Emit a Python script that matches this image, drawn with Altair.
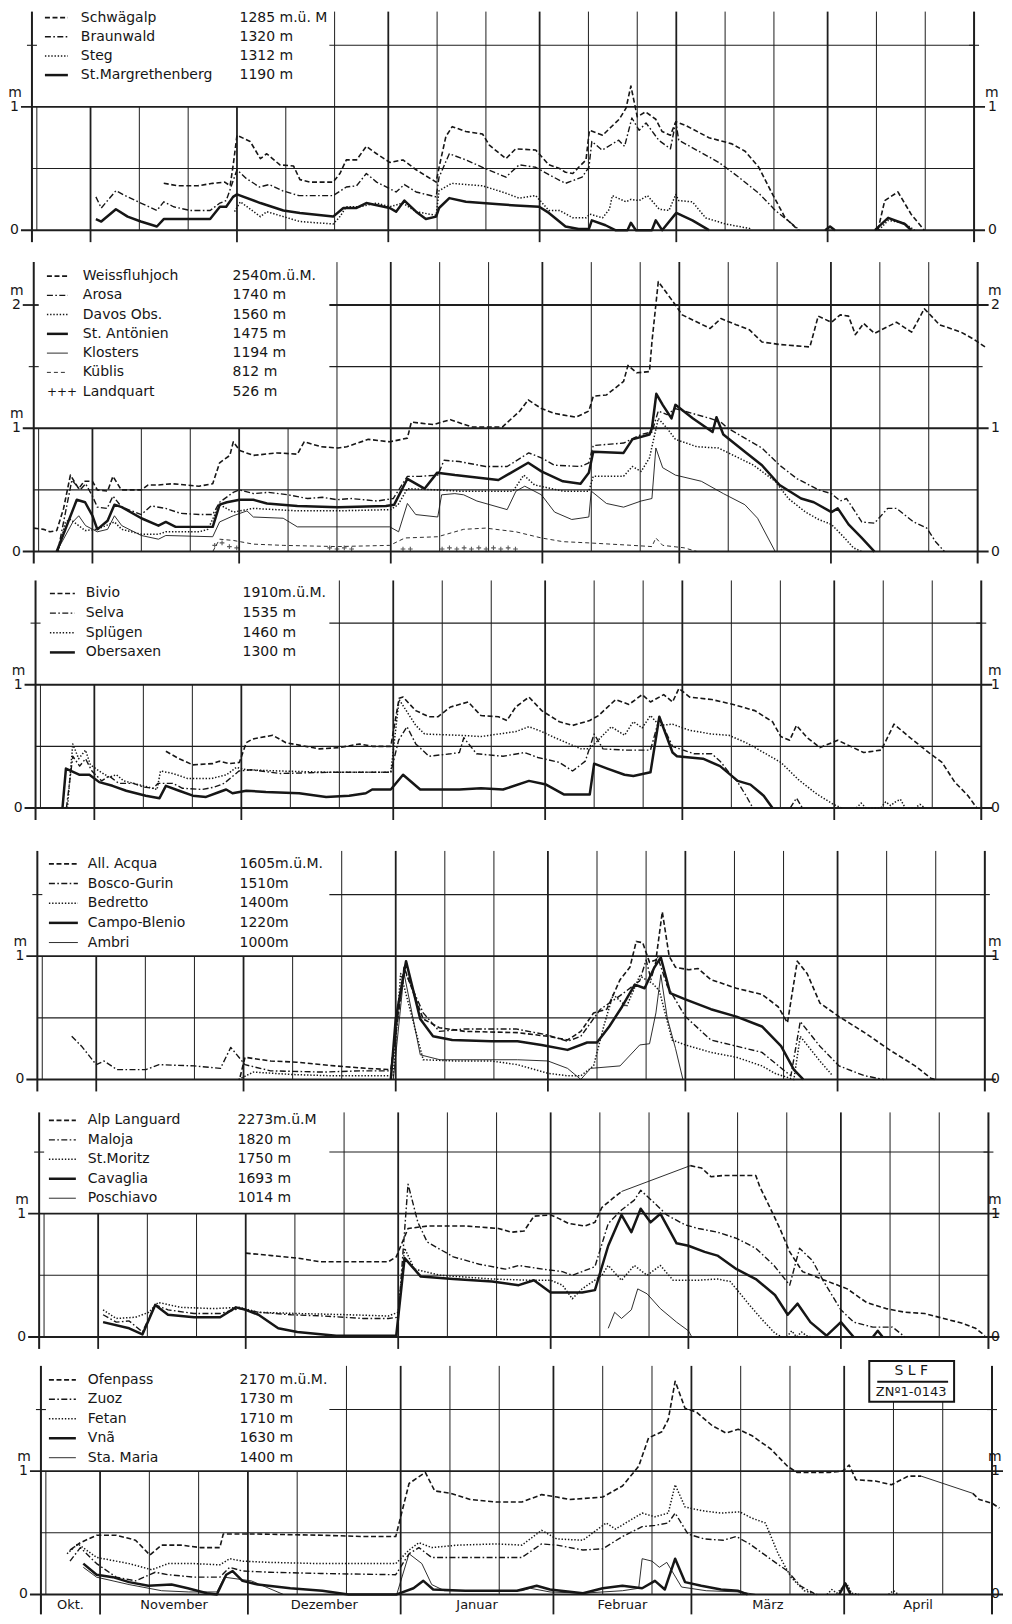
import altair as alt
import pandas as pd

# ---------------------------------------------------------------------------
# Day index: 0 = 20 Oct, 12 = 1 Nov, 42 = 1 Dec, 73 = 1 Jan, 104 = 1 Feb,
#            132 = 1 Mar, 163 = 1 Apr, 193 = 1 May.   Values: snow depth in m.
# ---------------------------------------------------------------------------

# ---- Panel 1 ----
SCHWAEGALP_D = [27, 30, 34, 37, 39.5, 40.6, 41.3, 42, 44.7, 46.8, 48.1, 50.8, 53.6, 54.9, 57, 61.7, 63.1, 64.4, 66.5, 68.5, 70.6, 73.3, 76, 78.7, 82.8, 83.4, 84.8, 86.1, 88.9, 92.3, 93.7, 97.1, 99.1, 103.2, 105.9, 108.1, 109.3, 110.8, 112, 113.5, 114.2, 116.9, 120.3, 121.7, 122.7, 124, 125.7, 127.8, 129.1, 130.8, 131.9, 133.9, 138.7, 143.4, 146.1, 148.9, 151.6, 154.3, 157]
SCHWAEGALP_V = [0.38, 0.36, 0.36, 0.38, 0.39, 0.36, 0.55, 0.77, 0.72, 0.58, 0.62, 0.53, 0.52, 0.41, 0.39, 0.39, 0.46, 0.57, 0.57, 0.68, 0.62, 0.55, 0.57, 0.49, 0.39, 0.51, 0.76, 0.84, 0.80, 0.78, 0.69, 0.58, 0.66, 0.65, 0.53, 0.50, 0.47, 0.46, 0.51, 0.57, 0.81, 0.77, 0.90, 0.99, 1.17, 0.92, 0.96, 0.90, 0.80, 0.77, 0.88, 0.85, 0.75, 0.70, 0.64, 0.51, 0.30, 0.10, 0.0]
SCHWAEGALP_D2 = [173.3, 174.7, 177.4, 180.1, 182.8]
SCHWAEGALP_V2 = [0, 0.24, 0.31, 0.13, 0]
BRAUNWALD_D = [13.1, 14.2, 17.2, 19.6, 22.3, 25.6, 27, 29, 32.4, 36.5, 38.5, 39.8, 42, 43.9, 46.6, 48.6, 51.3, 54.7, 57.5, 61.7, 64.4, 66.5, 68.5, 70.6, 74.6, 76.3, 78.7, 82.8, 83.4, 85.5, 88.9, 92.3, 97.1, 99.8, 103.2, 105.9, 109.3, 112.7, 114.1, 114.7, 116.8, 120.2, 121.4, 122.9, 124.4, 125.8, 128.4, 130.8, 131.9, 132.5, 136.6, 140.7, 144.8, 148.9, 152.3, 157.3]
BRAUNWALD_V = [0.27, 0.18, 0.32, 0.27, 0.22, 0.16, 0.23, 0.19, 0.16, 0.16, 0.22, 0.24, 0.49, 0.42, 0.35, 0.37, 0.32, 0.28, 0.28, 0.28, 0.35, 0.36, 0.46, 0.39, 0.31, 0.37, 0.31, 0.27, 0.43, 0.62, 0.57, 0.51, 0.43, 0.53, 0.51, 0.45, 0.38, 0.43, 0.51, 0.72, 0.65, 0.73, 0.68, 0.91, 0.81, 0.87, 0.73, 0.66, 0.88, 0.73, 0.64, 0.55, 0.43, 0.30, 0.16, 0.0]
STEG_D = [41.5, 42.7, 46.8, 48.1, 51.5, 54.9, 61.7, 63.1, 64.4, 67.2, 70.6, 73.3, 76, 78.7, 82.8, 83.4, 86, 92.3, 97.1, 99.8, 103.2, 105.9, 108.1, 110.8, 113.5, 114.3, 116.9, 118.3, 118.9, 121.7, 122.7, 124.4, 126.1, 128.5, 130.5, 131.9, 132.5, 135.3, 138, 142.1, 147.5]
STEG_V = [0.15, 0.23, 0.11, 0.15, 0.11, 0.07, 0.05, 0.11, 0.19, 0.19, 0.22, 0.19, 0.22, 0.15, 0.12, 0.32, 0.38, 0.36, 0.30, 0.26, 0.28, 0.16, 0.16, 0.10, 0.10, 0.13, 0.10, 0.17, 0.28, 0.23, 0.25, 0.24, 0.28, 0.17, 0.16, 0.29, 0.24, 0.23, 0.10, 0.05, 0.01]
STEG_D2 = [173.5, 175.4, 178.5, 180.8]
STEG_V2 = [0, 0.08, 0.06, 0]
MARGRETHENBERG_D = [13.1, 14.2, 17.2, 19.6, 22.3, 25.6, 27, 36.5, 38.5, 39.8, 41.2, 42, 46.8, 51.5, 54.9, 61.7, 63.8, 66.5, 68.5, 73.3, 74.6, 76.3, 78.7, 80.7, 82.8, 83.4, 85.5, 88.9, 95.7, 99.1, 103.9, 105.9, 109.3, 112, 114.1, 114.7, 117.5, 119.5, 122, 122.7, 123.7, 127, 127.8, 129.1, 132, 135.3, 138.7]
MARGRETHENBERG_V = [0.09, 0.07, 0.17, 0.11, 0.07, 0.03, 0.09, 0.09, 0.19, 0.19, 0.27, 0.29, 0.22, 0.16, 0.14, 0.11, 0.18, 0.18, 0.22, 0.18, 0.15, 0.24, 0.15, 0.09, 0.11, 0.18, 0.26, 0.23, 0.21, 0.20, 0.19, 0.14, 0.03, 0.01, 0.01, 0.08, 0.04, 0.0, 0.0, 0.06, 0.0, 0.0, 0.08, 0.0, 0.14, 0.08, 0.0]
MARGRETHENBERG_D2 = [162.5, 163.5, 164.5]
MARGRETHENBERG_V2 = [0, 0.03, 0]
MARGRETHENBERG_D3 = [172.7, 175.4, 178.8, 180.1]
MARGRETHENBERG_V3 = [0, 0.10, 0.05, 0]

# ---- Panel 2 ----
WEISSFLUHJOCH_D = [0, 2, 3.3, 4.7, 6.1, 7.5, 9.2, 10.3, 12, 13, 15.1, 16.2, 17.9, 22, 23.4, 25.5, 28.3, 33.8, 36.6, 38, 40.1, 40.8, 42.1, 44.9, 49.8, 53.9, 55.3, 58.8, 62.2, 64, 68.4, 72.8, 76.4, 77.2, 81.7, 85.2, 89.6, 95.8, 99.4, 101.1, 103.8, 106.5, 110.9, 113.5, 114.4, 117.1, 120.6, 121.5, 123.3, 125.9, 126.4, 127.7, 130.3, 131.2, 132.6, 138.3, 140.5, 143.6, 146.3, 148.9, 152.5, 158.7, 160.4, 163.1, 164.9, 166.6, 168, 169.7, 171.9, 176.4, 179.5, 182.1, 185.2, 189.6, 192.3, 194.5]
WEISSFLUHJOCH_V = [0.19, 0.18, 0.16, 0.17, 0.35, 0.62, 0.51, 0.57, 0.57, 0.50, 0.49, 0.61, 0.50, 0.50, 0.54, 0.54, 0.55, 0.53, 0.55, 0.72, 0.78, 0.89, 0.82, 0.78, 0.80, 0.79, 0.89, 0.85, 0.84, 0.85, 0.91, 0.89, 0.92, 1.05, 1.03, 1.07, 1.01, 1.01, 1.14, 1.23, 1.16, 1.12, 1.09, 1.14, 1.26, 1.27, 1.38, 1.51, 1.45, 1.46, 1.70, 2.19, 2.05, 2.00, 1.92, 1.81, 1.89, 1.84, 1.80, 1.70, 1.68, 1.66, 1.91, 1.86, 1.92, 1.91, 1.76, 1.85, 1.77, 1.86, 1.78, 1.97, 1.84, 1.78, 1.72, 1.66]
AROSA_D = [4.9, 6.4, 7.8, 9.5, 10.6, 12, 13, 15, 16.2, 18, 22, 24, 27, 30, 34, 36.6, 38, 40.8, 42, 45, 48, 52, 56, 59, 62, 64.9, 70.2, 73.5, 76.4, 79, 82.6, 83.9, 87, 92.4, 96.8, 101.2, 103.8, 106.5, 111.8, 113.5, 114.4, 120.6, 124.2, 126.4, 127.7, 129.5, 131.2, 134.7, 138.3, 140.5, 141.9, 145.4, 148.9, 152.5, 156.1, 160.5, 163.1, 164.9, 166.2, 169.3, 171.9, 174.6, 176.4, 179.9, 182.6, 184.4, 186.2]
AROSA_V = [0, 0.30, 0.58, 0.50, 0.55, 0.45, 0.36, 0.35, 0.45, 0.36, 0.30, 0.37, 0.35, 0.31, 0.30, 0.30, 0.40, 0.48, 0.50, 0.47, 0.48, 0.46, 0.43, 0.44, 0.42, 0.43, 0.41, 0.43, 0.61, 0.61, 0.62, 0.74, 0.73, 0.69, 0.69, 0.80, 0.76, 0.70, 0.69, 0.72, 0.86, 0.88, 0.95, 0.97, 1.14, 1.11, 1.16, 1.12, 1.08, 1.05, 1.00, 0.92, 0.84, 0.70, 0.59, 0.50, 0.47, 0.41, 0.43, 0.24, 0.23, 0.35, 0.35, 0.24, 0.19, 0.08, 0]
DAVOS_D = [5, 6.5, 7.5, 9.2, 10.5, 13, 16.5, 18, 22, 25.5, 27, 33.8, 35.6, 38, 40.8, 44.9, 53.9, 62.2, 73, 74.5, 76.4, 82.6, 87, 98, 100.2, 102.4, 108.2, 113.5, 114.4, 120.6, 122.4, 124.2, 125.9, 127.7, 129.5, 131.2, 135.6, 140, 143.6, 147.2, 151.6, 154.3, 157.8, 160.5, 163.1, 165.8, 167.6, 169.3]
DAVOS_V = [0, 0.24, 0.26, 0.21, 0.17, 0.18, 0.24, 0.18, 0.14, 0.14, 0.16, 0.16, 0.18, 0.38, 0.32, 0.35, 0.33, 0.33, 0.34, 0.38, 0.51, 0.50, 0.49, 0.49, 0.62, 0.54, 0.49, 0.49, 0.61, 0.61, 0.69, 0.65, 0.76, 1.08, 1.00, 0.91, 0.85, 0.84, 0.77, 0.70, 0.57, 0.43, 0.32, 0.26, 0.22, 0.11, 0.03, 0]
ANTOENIEN_D = [4.7, 8.8, 10.5, 12, 13, 15.1, 16.5, 18, 22, 25.5, 27, 29, 36.6, 38, 39.5, 42.1, 44.9, 47.7, 53.9, 62.2, 72, 73.7, 76.4, 79.9, 82.5, 86.1, 95, 101.1, 103.8, 108.2, 111.8, 113.5, 114.4, 120.6, 122.4, 125.9, 126.4, 127.3, 128.6, 130.4, 131.2, 134.8, 138.8, 139.6, 141, 145.4, 148.9, 152.5, 156.9, 159.5, 163.1, 164.4, 166.6, 169.3, 171.9]
ANTOENIEN_V = [0, 0.42, 0.40, 0.29, 0.18, 0.25, 0.38, 0.36, 0.27, 0.21, 0.24, 0.20, 0.20, 0.38, 0.40, 0.42, 0.42, 0.39, 0.37, 0.36, 0.37, 0.38, 0.59, 0.51, 0.64, 0.62, 0.58, 0.72, 0.65, 0.57, 0.55, 0.64, 0.81, 0.80, 0.91, 0.95, 1.00, 1.28, 1.19, 1.08, 1.19, 1.08, 0.97, 1.09, 0.95, 0.81, 0.70, 0.54, 0.43, 0.40, 0.32, 0.35, 0.22, 0.11, 0]
KLOSTERS_D = [4.7, 8, 9.2, 10.6, 13, 15.1, 16.5, 18, 22, 25.5, 27, 36.6, 38, 40.8, 43.6, 44.9, 51, 53.9, 62, 72.8, 74.6, 76.4, 78.1, 82.6, 83.4, 86.1, 87.9, 90.6, 96.8, 98.6, 100.4, 103.8, 106.5, 110, 113.5, 114, 117.1, 120.6, 124.2, 126.4, 127.2, 128.6, 131.2, 136.5, 141, 145.4, 148, 151.6]
KLOSTERS_V = [0, 0.24, 0.29, 0.21, 0.16, 0.18, 0.29, 0.21, 0.13, 0.10, 0.13, 0.12, 0.24, 0.29, 0.33, 0.28, 0.27, 0.20, 0.20, 0.20, 0.16, 0.39, 0.30, 0.28, 0.46, 0.47, 0.46, 0.41, 0.34, 0.49, 0.53, 0.46, 0.32, 0.26, 0.28, 0.49, 0.39, 0.36, 0.41, 0.43, 0.84, 0.68, 0.62, 0.57, 0.47, 0.38, 0.27, 0]
KUEBLIS_D = [36.6, 38, 40.8, 44.9, 51, 62, 72.8, 75.9, 82.6, 87.9, 92.4, 98.6, 103.8, 108.2, 113.5, 122.4, 126.4, 127.2, 128.6, 133, 135.6]
KUEBLIS_V = [0, 0.10, 0.09, 0.06, 0.05, 0.04, 0.05, 0.11, 0.12, 0.18, 0.19, 0.16, 0.11, 0.08, 0.07, 0.05, 0.04, 0.11, 0.05, 0.03, 0]
LANDQUART_D = [37, 38.5, 40, 41.5, 60.5, 62, 63.5, 65, 75.5, 77, 83.5, 85, 86.5, 88, 89.5, 91, 92.5, 94, 95.5, 97, 98.5]
LANDQUART_V = [0.05, 0.07, 0.04, 0.03, 0.03, 0.02, 0.03, 0.02, 0.02, 0.02, 0.02, 0.03, 0.02, 0.03, 0.02, 0.03, 0.02, 0.03, 0.02, 0.03, 0.02]

# ---- Panel 3 ----
BIVIO_D = [26.6, 29.3, 32.1, 36.1, 37.5, 39.6, 41.6, 43, 44.3, 48.4, 51.1, 53.8, 57.9, 62, 66.1, 68.8, 72.5, 74.2, 75, 77.6, 80.3, 82.1, 84.7, 88.3, 90.9, 94.5, 96.2, 98, 100.7, 103.3, 106.9, 109.6, 113.1, 114.9, 118.4, 121.1, 123.8, 125.5, 128.2, 130, 131.3, 133.5, 138, 142.4, 146.8, 150.4, 152.1, 153.9, 155.3, 157.5, 160.1, 163.7, 169, 172.6, 175.2, 178.8, 182.3, 185, 187.6, 190.3, 192.1]
BIVIO_V = [0.46, 0.40, 0.35, 0.36, 0.38, 0.36, 0.37, 0.53, 0.56, 0.59, 0.53, 0.51, 0.48, 0.49, 0.52, 0.50, 0.50, 0.89, 0.90, 0.79, 0.74, 0.74, 0.82, 0.86, 0.75, 0.74, 0.71, 0.82, 0.90, 0.79, 0.70, 0.67, 0.71, 0.75, 0.88, 0.84, 0.92, 0.86, 0.92, 0.86, 0.97, 0.90, 0.88, 0.84, 0.79, 0.70, 0.58, 0.55, 0.67, 0.57, 0.49, 0.55, 0.45, 0.47, 0.68, 0.56, 0.45, 0.37, 0.21, 0.10, 0.0]
SELVA_D = [6.3, 7.6, 9, 10.2, 11.5, 13.5, 15, 17, 20, 22, 24, 25, 28, 30, 34, 36.5, 38.5, 41.5, 44, 50, 60, 72.5, 74.1, 75.8, 77.6, 80.3, 84.7, 86.5, 87.4, 90, 95.4, 99.8, 102.5, 106.9, 109.6, 112.2, 114, 115.8, 120.2, 125.5, 127.3, 130, 134.4, 138, 139.7, 141.5, 143.3, 145, 146.4]
SELVA_V = [0, 0.42, 0.34, 0.40, 0.30, 0.22, 0.26, 0.20, 0.20, 0.17, 0.16, 0.20, 0.20, 0.16, 0.15, 0.17, 0.20, 0.30, 0.31, 0.28, 0.29, 0.29, 0.55, 0.66, 0.52, 0.42, 0.44, 0.45, 0.57, 0.44, 0.42, 0.45, 0.41, 0.37, 0.30, 0.38, 0.60, 0.48, 0.47, 0.47, 0.73, 0.50, 0.44, 0.44, 0.38, 0.29, 0.21, 0.10, 0]
SELVA_D2 = [154, 155.3, 156.5]
SELVA_V2 = [0, 0.08, 0]
SPLUEGEN_D = [6.5, 7.6, 8.8, 10.2, 11.2, 13, 15, 16.5, 18, 21, 23, 24.8, 25.5, 28, 31, 36, 39, 41, 43, 50, 60, 72.5, 74.2, 77.6, 79.4, 86.5, 90.9, 98, 100.7, 103.3, 106, 111.3, 113.1, 117.5, 120.2, 122, 123.8, 125.5, 127.3, 130, 133.5, 138, 141.5, 145, 148.6, 152.1, 155.7, 159.2, 162.8, 164.6]
SPLUEGEN_V = [0, 0.52, 0.40, 0.47, 0.35, 0.30, 0.25, 0.27, 0.22, 0.19, 0.17, 0.15, 0.30, 0.28, 0.24, 0.24, 0.27, 0.33, 0.31, 0.30, 0.29, 0.29, 0.88, 0.67, 0.60, 0.59, 0.58, 0.62, 0.66, 0.62, 0.57, 0.48, 0.48, 0.66, 0.59, 0.70, 0.65, 0.75, 0.67, 0.68, 0.63, 0.60, 0.59, 0.53, 0.45, 0.37, 0.23, 0.12, 0.03, 0]
SPLUEGEN_D2 = [167.5, 168.5, 169.5, 172.5, 173.5, 174.5, 175.5, 176.5, 177.5, 179.5, 180.5, 181.5]
SPLUEGEN_V2 = [0, 0.04, 0, 0, 0.05, 0.02, 0.05, 0.07, 0, 0, 0.03, 0]
OBERSAXEN_D = [5.5, 6.2, 8.9, 11, 13, 15.7, 18.5, 22.5, 25.3, 26.6, 29.3, 32.1, 34.8, 37.5, 38.9, 40.2, 43, 47, 53.8, 59.3, 64, 67.4, 68.7, 72.5, 75, 78.5, 86.5, 90.9, 95.4, 100.7, 104.2, 107.8, 113.1, 114, 116.7, 120.2, 122, 125.5, 127.3, 130, 130.9, 136.2, 139.7, 143.3, 145.9, 148.6, 150.4]
OBERSAXEN_V = [0, 0.32, 0.27, 0.27, 0.21, 0.18, 0.14, 0.10, 0.08, 0.18, 0.14, 0.10, 0.09, 0.13, 0.15, 0.12, 0.14, 0.13, 0.12, 0.09, 0.10, 0.12, 0.15, 0.15, 0.27, 0.15, 0.15, 0.16, 0.15, 0.22, 0.19, 0.11, 0.11, 0.36, 0.32, 0.27, 0.26, 0.29, 0.74, 0.45, 0.42, 0.40, 0.34, 0.22, 0.19, 0.10, 0]

# ---- Panel 4 ----
ACQUA_D = [41.3, 42.3, 47.5, 52.8, 60.6, 67.2, 72, 74.7, 78.6, 81.9, 87.1, 97.8, 104, 108, 110.7, 113.3, 116, 118.7, 120.7, 122, 123.3, 124.7, 126, 127.3, 128.7, 130, 132.7, 134.6, 137.2, 142.4, 147.6, 150.9, 152.8, 154.8, 156.8, 159.4, 163.3, 168.5, 173.6, 178.8, 182, 182.8]
ACQUA_V = [0.02, 0.18, 0.15, 0.14, 0.11, 0.09, 0.08, 0.91, 0.49, 0.42, 0.39, 0.38, 0.35, 0.32, 0.39, 0.54, 0.57, 0.81, 0.91, 1.12, 1.11, 0.95, 0.97, 1.36, 1.00, 0.91, 0.89, 0.90, 0.81, 0.74, 0.69, 0.59, 0.46, 0.96, 0.86, 0.62, 0.51, 0.38, 0.24, 0.11, 0.01, 0]
BOSCO_D = [7, 9, 12, 13.6, 16.2, 22.1, 24.8, 32, 37.3, 39.4, 42.3, 47.5, 58.1, 66, 72.1, 74.7, 78.6, 81.9, 87.1, 97.5, 104, 108, 110.7, 114.7, 118.7, 122.7, 124, 125, 126.3, 128.3, 132, 137.2, 142.4, 147.6, 152.2, 153.5, 155.4, 159.4, 163.3, 168.5, 172.4]
BOSCO_V = [0.35, 0.27, 0.12, 0.15, 0.08, 0.08, 0.12, 0.11, 0.09, 0.26, 0.12, 0.07, 0.06, 0.07, 0.07, 0.89, 0.54, 0.39, 0.41, 0.41, 0.36, 0.31, 0.35, 0.57, 0.68, 0.80, 0.97, 0.81, 1.00, 0.76, 0.51, 0.32, 0.27, 0.22, 0.07, 0.03, 0.47, 0.27, 0.11, 0.03, 0]
BEDRETTO_D = [41, 44, 52, 60, 68, 72.5, 74, 78.6, 85, 92.5, 97.8, 104, 108, 110.7, 113.3, 115.5, 117.3, 120, 122.7, 125.3, 126.7, 129.3, 132, 137.2, 142.4, 147.6, 150.2, 154.1, 155.4, 159.4, 162]
BEDRETTO_V = [0, 0.06, 0.04, 0.03, 0.03, 0.03, 0.86, 0.16, 0.15, 0.15, 0.12, 0.05, 0.03, 0.03, 0.11, 0.45, 0.69, 0.59, 0.84, 0.78, 0.72, 0.32, 0.28, 0.22, 0.18, 0.11, 0.05, 0.0, 0.35, 0.15, 0.03]
CAMPO_D = [72, 73, 75.1, 78, 80.6, 84.5, 92.5, 97.8, 102.7, 108, 112, 114, 116.5, 119.1, 121.7, 123.7, 125.7, 127, 128.9, 132, 137.2, 142.4, 147.6, 151.5, 154.1, 156]
CAMPO_V = [0, 0.49, 0.96, 0.49, 0.35, 0.32, 0.31, 0.31, 0.28, 0.24, 0.30, 0.30, 0.43, 0.59, 0.77, 0.74, 0.91, 0.99, 0.70, 0.65, 0.57, 0.51, 0.43, 0.27, 0.08, 0]
AMBRI_D = [72.5, 74.7, 78, 82, 92, 97.8, 104, 108, 110.7, 112.7, 118.7, 122.7, 124.7, 126, 127, 128.3, 130, 131.5]
AMBRI_V = [0, 0.86, 0.20, 0.16, 0.16, 0.16, 0.15, 0.09, 0.0, 0.09, 0.11, 0.28, 0.29, 0.54, 0.85, 0.50, 0.25, 0]

# ---- Panel 5 ----
LANGUARD_D = [42, 47.3, 52.5, 57, 62.2, 71, 72.6, 75, 79, 86.8, 93.4, 96, 98.6, 100.6, 104, 105.7, 107.7, 111, 113, 114.4, 116.5, 118.4]
LANGUARD_V = [0.68, 0.66, 0.64, 0.61, 0.61, 0.61, 0.65, 0.88, 0.90, 0.90, 0.88, 0.85, 0.86, 0.98, 0.99, 0.96, 0.92, 0.90, 0.93, 1.05, 1.12, 1.18]
LANGUARD_GAP_D = [118.4, 132.4]
LANGUARD_GAP_V = [1.18, 1.39]
LANGUARD_D2 = [132.4, 134.7, 136.6, 139.2, 141.8, 145.7, 146.5, 148.7, 150.6, 152.6, 155.2, 157.8, 160.4, 164.3, 168.2, 172.2, 176.1, 180, 183.9, 187.8, 190.4, 192.3]
LANGUARD_V2 = [1.39, 1.37, 1.30, 1.31, 1.31, 1.31, 1.22, 1.04, 0.88, 0.69, 0.53, 0.49, 0.45, 0.39, 0.28, 0.23, 0.20, 0.19, 0.15, 0.11, 0.07, 0.01]
MALOJA_D = [13, 15.7, 18.3, 21, 23.6, 26.2, 31.5, 36.8, 40.7, 44.6, 51.2, 57.8, 65.8, 71, 73, 75, 77, 78.9, 84.2, 89.5, 94.8, 97.5, 102.4, 106.4, 108.4, 113, 115.7, 118.4, 121, 122.3, 125, 127.6, 131.3, 134, 137.9, 141.8, 145.7, 149.4, 152.6, 154.6, 157.2, 159.5, 163, 165.6, 169.5, 173.5, 176]
MALOJA_V = [0.18, 0.12, 0.13, 0.04, 0.26, 0.22, 0.19, 0.19, 0.23, 0.20, 0.18, 0.17, 0.15, 0.15, 0.16, 1.24, 0.93, 0.77, 0.65, 0.59, 0.55, 0.58, 0.55, 0.53, 0.50, 0.57, 0.92, 1.03, 1.11, 1.19, 1.09, 0.99, 0.91, 0.88, 0.85, 0.80, 0.72, 0.58, 0.42, 0.72, 0.62, 0.45, 0.22, 0.12, 0.08, 0.08, 0]
STMORITZ_D = [13, 15.7, 19.6, 22.3, 24.2, 28.8, 35.4, 40.7, 44.6, 52.5, 63, 71, 73, 74.3, 76.3, 81.6, 92.1, 100, 104, 106.4, 108.4, 110.4, 114.4, 115.7, 118.4, 121, 123.6, 126.3, 128.9, 134, 137.9, 140.5, 144.4, 147, 149.6, 151]
STMORITZ_V = [0.22, 0.15, 0.16, 0.20, 0.28, 0.24, 0.23, 0.24, 0.20, 0.19, 0.18, 0.17, 0.20, 0.72, 0.55, 0.50, 0.47, 0.46, 0.46, 0.42, 0.31, 0.39, 0.50, 0.58, 0.46, 0.58, 0.50, 0.58, 0.46, 0.46, 0.47, 0.45, 0.26, 0.14, 0.03, 0]
STMORITZ_D2 = [152, 153, 154, 155, 156, 157]
STMORITZ_V2 = [0, 0.05, 0, 0.04, 0.01, 0]
CAVAGLIA_D = [13, 18.3, 21, 23.6, 26.2, 31.5, 36.8, 40, 42, 44.6, 48.6, 52.5, 60.4, 72.6, 74.3, 77.6, 84.2, 92.1, 97.5, 100.6, 104, 110.4, 113, 115.7, 118.4, 120.4, 122.3, 124.3, 126.3, 129.6, 132, 135.3, 137.9, 141.8, 145.7, 149.6, 152.2, 154.2, 156.8, 160.1, 163, 165.6]
CAVAGLIA_V = [0.12, 0.07, 0.02, 0.26, 0.18, 0.16, 0.16, 0.24, 0.22, 0.18, 0.07, 0.04, 0.01, 0.01, 0.64, 0.49, 0.47, 0.45, 0.42, 0.46, 0.36, 0.36, 0.38, 0.74, 0.99, 0.85, 1.04, 0.93, 1.00, 0.76, 0.74, 0.69, 0.66, 0.55, 0.47, 0.34, 0.18, 0.27, 0.12, 0.01, 0.12, 0]
CAVAGLIA_D2 = [169.5, 170.5, 171.5]
CAVAGLIA_V2 = [0, 0.05, 0]
POSCHIAVO_D = [115.7, 117, 118.4, 120.4, 121.7, 123.6, 126.3, 129.6, 132, 132.7]
POSCHIAVO_V = [0.07, 0.20, 0.15, 0.22, 0.39, 0.35, 0.23, 0.12, 0.05, 0]

# ---- Panel 6 ----
OFENPASS_D = [5.9, 8, 11.3, 15.3, 19.2, 22.1, 24.5, 28.4, 32.4, 36.3, 37, 44, 57.3, 65.2, 72, 74.7, 78, 79.9, 83.2, 87.1, 92.4, 97.6, 101.6, 104.7, 107.3, 114, 118, 121.3, 123.3, 126, 127.3, 128.7, 130.7, 133, 136.2, 139, 141.5, 144.2, 148.1, 151.5, 153.4, 160, 162.7, 164, 165.4, 169.3, 172.6, 176, 178.6]
OFENPASS_V = [0.36, 0.42, 0.48, 0.48, 0.44, 0.32, 0.40, 0.40, 0.38, 0.38, 0.49, 0.49, 0.48, 0.47, 0.47, 0.90, 0.99, 0.84, 0.82, 0.77, 0.75, 0.75, 0.81, 0.79, 0.77, 0.79, 0.88, 1.04, 1.27, 1.32, 1.42, 1.73, 1.51, 1.48, 1.37, 1.31, 1.34, 1.29, 1.18, 1.04, 0.99, 0.99, 1.00, 1.05, 0.93, 0.92, 0.89, 0.96, 0.96]
OFENPASS_GAP_D = [178.6, 189.1]
OFENPASS_GAP_V = [0.96, 0.82]
OFENPASS_D2 = [189.1, 190.4, 193, 194.5]
OFENPASS_V2 = [0.82, 0.77, 0.74, 0.70]
ZUOZ_D = [5.9, 8, 11.3, 15.3, 19.2, 23.2, 25.8, 31.1, 36.3, 38.3, 40.9, 46.4, 56.8, 72, 74.7, 76.7, 79.3, 84.5, 92.4, 97.6, 101.6, 104.7, 110, 114, 118, 122, 124.6, 127.3, 128.7, 131.3, 134.6, 138.5, 141.1, 143.8, 147.6, 151.5, 154.1, 156.8]
ZUOZ_V = [0.27, 0.38, 0.25, 0.14, 0.11, 0.18, 0.16, 0.14, 0.14, 0.22, 0.19, 0.18, 0.17, 0.16, 0.33, 0.38, 0.30, 0.30, 0.30, 0.30, 0.41, 0.40, 0.36, 0.37, 0.47, 0.55, 0.56, 0.58, 0.66, 0.49, 0.45, 0.44, 0.47, 0.41, 0.30, 0.19, 0.07, 0.01]
FETAN_D = [5.3, 7.5, 11.3, 17.9, 22.5, 25.8, 31.1, 36.3, 38.3, 40.9, 46.4, 56.8, 72, 74.7, 76.7, 79.3, 84.5, 92.4, 97.6, 101.6, 104.7, 110, 114.7, 116.6, 122, 124.6, 127.3, 128.7, 130.7, 134, 138, 141.8, 144.2, 147, 149.6, 152.2, 154.9, 157.5]
FETAN_V = [0.33, 0.41, 0.30, 0.25, 0.20, 0.25, 0.25, 0.24, 0.29, 0.27, 0.26, 0.25, 0.25, 0.36, 0.42, 0.38, 0.40, 0.41, 0.40, 0.52, 0.45, 0.44, 0.58, 0.53, 0.66, 0.63, 0.66, 0.89, 0.71, 0.68, 0.66, 0.67, 0.62, 0.58, 0.33, 0.14, 0.03, 0]
FETAN_D2 = [159.5, 160.5, 161.5, 162.5, 163.5, 164.5, 166]
FETAN_V2 = [0, 0.04, 0.01, 0.05, 0.09, 0.01, 0]
FETAN_D3 = [172, 173, 174]
FETAN_V3 = [0, 0.03, 0]
VNA_D = [8.6, 11.3, 14.6, 17.9, 21.8, 26.5, 29.8, 33.7, 35.7, 37.6, 38.9, 40.9, 44, 50.6, 57.1, 62.4, 72.2, 75.6, 77.6, 79.6, 86.1, 96.6, 100.6, 103.3, 110, 114, 118, 122, 124.6, 126.6, 128.7, 130.7, 134, 138, 141.4, 143.4]
VNA_V = [0.25, 0.16, 0.14, 0.10, 0.07, 0.08, 0.05, 0.01, 0, 0.16, 0.19, 0.11, 0.08, 0.05, 0.03, 0, 0, 0.05, 0.11, 0.04, 0.03, 0.03, 0.07, 0.04, 0.01, 0.05, 0.07, 0.05, 0.11, 0.04, 0.29, 0.10, 0.07, 0.04, 0.03, 0]
VNA_D2 = [162, 163.2, 164.3]
VNA_V2 = [0, 0.09, 0]
STAMARIA_D = [8.6, 11.3, 17.9, 24.5, 30, 35.7, 37.2, 42.7, 49.2]
STAMARIA_V = [0.22, 0.14, 0.08, 0.03, 0.02, 0.02, 0.14, 0.11, 0]
STAMARIA_D2 = [72.2, 74.7, 77.3, 79.3, 81.9, 97.6, 99.3, 103.3, 110, 118, 121.3, 122, 124, 125.5, 127, 130, 135, 142, 145]
STAMARIA_V2 = [0, 0.33, 0.25, 0.08, 0.03, 0.03, 0.05, 0.02, 0.01, 0.03, 0.05, 0.29, 0.27, 0.22, 0.26, 0.06, 0.03, 0.02, 0]

MONTH_NAMES = ["Okt.", "November", "Dezember", "Januar", "Februar", "März", "April"]
MONTH_MID = [6, 27, 57.5, 88.5, 118, 147.5, 178]
MONTH_START_DAYS = [12, 42, 73, 104, 132, 163]
DEKAD_DAYS = [1, 22, 32, 52, 62, 83, 93, 114, 124, 142, 152, 173, 183]
END_DAY = 193

# ---------------------------------------------------------------------------
# layout / style
# ---------------------------------------------------------------------------
K = 123.5            # px per metre
W = 996
Z = [229, 551, 808, 1080, 1338, 1596]   # page y of 0 m line
T = [8, 241, 563, 820, 1092, 1350]      # page y of panel top
B = [241, 563, 820, 1092, 1350, 1616]   # page y of panel bottom
LX = [32, 33.8, 35.6, 37.4, 39.2, 41]   # page x of 20 Oct axis
RX = [976, 979.6, 983.2, 986.8, 990.4, 994]  # page x of 1 May axis
VGAP = [2, 20, 17, 31, 21, 17]
LEGEND_GEOM = [
    (16, 19.2, 45, 68, 81, 240),
    (275, 19.3, 47, 68, 83, 233),
    (593, 19.7, 50, 75, 86, 243),
    (864, 19.7, 49, 78, 88, 240),
    (1121, 19.5, 49, 76, 88, 238),
    (1381, 19.5, 49, 76, 88, 240),
]
INK = "#161616"
GRID = "#1e1e1e"
FONT = "DejaVu Sans"
FS = 14
LINE_STYLE = {
    "dash": {"strokeDash": [5, 2.6], "strokeWidth": 1.6},
    "dashdot": {"strokeDash": [6, 2.4, 1.6, 2.4], "strokeWidth": 1.4},
    "dot": {"strokeDash": [1.4, 1.8], "strokeWidth": 1.5},
    "bold": {"strokeWidth": 2.5},
    "thin": {"strokeWidth": 0.9},
    "thindash": {"strokeDash": [4, 3], "strokeWidth": 0.9},
}


def build_panel(i, stations, extras=(), left_levels=((0, False), (1, True)),
                right_levels=((0, False), (1, True)), two_metre=False,
                bottom=False, slf=False):
    h = B[i] - T[i]
    hi = (Z[i] - T[i]) / K
    lo = -(B[i] - Z[i]) / K
    k = (RX[i] - LX[i]) / END_DAY
    xlo = -(LX[i] - 8) / k
    xhi = xlo + W / k

    def dx(px):
        return (px - LX[i]) / k

    def dy(py):
        return (Z[i] - py) / K

    xs = alt.Scale(domain=[xlo, xhi], nice=False, zero=False)
    ys = alt.Scale(domain=[lo, hi], nice=False, zero=False)

    def X(f):
        return alt.X(f + ":Q", scale=xs, axis=None)

    def Y(f):
        return alt.Y(f + ":Q", scale=ys, axis=None)

    ext = 11 / k
    tick = 5 / k
    xleg = dx(330)
    vtop = hi - VGAP[i] / K

    hrows = [(0.0, -ext, END_DAY + ext, 2.0), (0.5, 0, END_DAY, 1.1),
             (1.0, -ext, END_DAY + ext, 1.8), (1.5, xleg, END_DAY, 1.1),
             (1.5, -tick, tick, 1.1), (1.5, END_DAY - tick, END_DAY + tick, 1.1)]
    if two_metre:
        hrows += [(2.0, xleg, END_DAY + ext, 1.8), (2.0, -ext, tick, 1.8)]
    hdf = pd.DataFrame(hrows, columns=["y", "x", "x2", "w"])

    vrows = [(0, lo, vtop, 2.0), (END_DAY, lo, vtop, 2.0)]
    for d in MONTH_START_DAYS:
        vrows.append((d, lo, vtop if d > xleg else 1.0, 1.8))
    for d in DEKAD_DAYS:
        vrows.append((d, 0, vtop if d > xleg else 1.0, 1.0))
    vdf = pd.DataFrame(vrows, columns=["x", "y", "y2", "w"])

    layers = [
        alt.Chart(vdf).mark_rule(color=GRID).encode(
            x=X("x"), y=Y("y"), y2="y2:Q",
            strokeWidth=alt.StrokeWidth("w:Q", scale=None)),
        alt.Chart(hdf).mark_rule(color=GRID).encode(
            x=X("x"), x2="x2:Q", y=Y("y"),
            strokeWidth=alt.StrokeWidth("w:Q", scale=None)),
    ]

    texts_left, texts_right, texts_center = [], [], []

    if slf:
        box = pd.DataFrame([{"x": dx(871), "x2": dx(956), "y": dy(1362), "y2": dy(1403)}])
        layers.append(alt.Chart(box).mark_rect(fill="white", stroke=INK, strokeWidth=2).encode(
            x=X("x"), x2="x2:Q", y=Y("y"), y2="y2:Q"))
        sep = pd.DataFrame([{"x": dx(879), "x2": dx(950), "y": dy(1383)}])
        layers.append(alt.Chart(sep).mark_rule(color=INK, strokeWidth=2).encode(
            x=X("x"), x2="x2:Q", y=Y("y")))
        texts_center.append({"x": dx(913), "y": dy(1372), "t": "S L F", "fs": 14})
        texts_center.append({"x": dx(913), "y": dy(1393), "t": "ZNº1-0143", "fs": 13})

    # data lines
    by_style = {}
    crosses = []
    for name, altitude, style, segs in stations:
        for j, (D, V) in enumerate(segs):
            for d, v in zip(D, V):
                if style == "cross":
                    crosses.append({"day": d, "v": v})
                else:
                    by_style.setdefault(style, []).append({"key": f"{name}-{j}", "day": d, "v": v})
    for j, (D, V, style) in enumerate(extras):
        for d, v in zip(D, V):
            by_style.setdefault(style, []).append({"key": f"extra-{j}", "day": d, "v": v})
    for style, rows in by_style.items():
        layers.append(alt.Chart(pd.DataFrame(rows)).mark_line(
            color=INK, strokeJoin="round", **LINE_STYLE[style]).encode(
            x=X("day"), y=Y("v"), detail="key:N"))
    if crosses:
        layers.append(alt.Chart(pd.DataFrame(crosses)).mark_point(
            shape="M-1,0L1,0M0,-1L0,1", size=22, filled=False, color=INK, strokeWidth=1.1).encode(
            x=X("day"), y=Y("v")))

    # legend
    y0, step, s0, s1, nx, ax = LEGEND_GEOM[i]
    for r, (name, altitude, style, segs) in enumerate(stations):
        py = y0 + r * step
        if style == "cross":
            texts_left.append({"x": dx(s0), "y": dy(py), "t": "+++", "fs": 12})
        else:
            sym = pd.DataFrame([{"x": dx(s0), "x2": dx(s1), "y": dy(py)}])
            layers.append(alt.Chart(sym).mark_rule(color=INK, **LINE_STYLE[style]).encode(
                x=X("x"), x2="x2:Q", y=Y("y")))
        texts_left.append({"x": dx(nx), "y": dy(py), "t": name, "fs": FS})
        texts_left.append({"x": dx(ax), "y": dy(py), "t": altitude, "fs": FS})

    # axis labels
    rlab = min(RX[i] + 14, 993)
    for lev, with_m in left_levels:
        texts_right.append({"x": dx(LX[i] - 13), "y": lev, "t": str(lev), "fs": FS})
        if with_m:
            texts_center.append({"x": dx(LX[i] - 17), "y": lev + 14 / K, "t": "m", "fs": FS})
    for lev, with_m in right_levels:
        texts_left.append({"x": dx(rlab), "y": lev, "t": str(lev), "fs": FS})
        if with_m:
            texts_left.append({"x": dx(rlab - 3), "y": lev + 14 / K, "t": "m", "fs": FS})

    if bottom:
        for name, mid in zip(MONTH_NAMES, MONTH_MID):
            texts_center.append({"x": mid, "y": dy(1607), "t": name, "fs": 13})

    for rows, align in ((texts_left, "left"), (texts_right, "right"), (texts_center, "center")):
        if rows:
            layers.append(alt.Chart(pd.DataFrame(rows)).mark_text(
                font=FONT, color=INK, align=align, baseline="middle").encode(
                x=X("x"), y=Y("y"), text="t:N", size=alt.Size("fs:Q", scale=None)))

    return alt.layer(*layers).properties(width=W, height=h)


p1 = build_panel(0, [
    ("Schwägalp", "1285 m.ü. M", "dash", [(SCHWAEGALP_D, SCHWAEGALP_V), (SCHWAEGALP_D2, SCHWAEGALP_V2)]),
    ("Braunwald", "1320 m", "dashdot", [(BRAUNWALD_D, BRAUNWALD_V)]),
    ("Steg", "1312  m", "dot", [(STEG_D, STEG_V), (STEG_D2, STEG_V2)]),
    ("St.Margrethenberg", "1190  m", "bold", [(MARGRETHENBERG_D, MARGRETHENBERG_V),
                                               (MARGRETHENBERG_D2, MARGRETHENBERG_V2),
                                               (MARGRETHENBERG_D3, MARGRETHENBERG_V3)]),
])
p2 = build_panel(1, [
    ("Weissfluhjoch", "2540m.ü.M.", "dash", [(WEISSFLUHJOCH_D, WEISSFLUHJOCH_V)]),
    ("Arosa", "1740 m", "dashdot", [(AROSA_D, AROSA_V)]),
    ("Davos  Obs.", "1560 m", "dot", [(DAVOS_D, DAVOS_V)]),
    ("St. Antönien", "1475 m", "bold", [(ANTOENIEN_D, ANTOENIEN_V)]),
    ("Klosters", "1194 m", "thin", [(KLOSTERS_D, KLOSTERS_V)]),
    ("Küblis", "\u2007812 m", "thindash", [(KUEBLIS_D, KUEBLIS_V)]),
    ("Landquart", "\u2007526 m", "cross", [(LANDQUART_D, LANDQUART_V)]),
], left_levels=((0, False), (1, True), (2, True)),
   right_levels=((0, False), (1, False), (2, True)), two_metre=True)
p3 = build_panel(2, [
    ("Bivio", "1910m.ü.M.", "dash", [(BIVIO_D, BIVIO_V)]),
    ("Selva", "1535 m", "dashdot", [(SELVA_D, SELVA_V), (SELVA_D2, SELVA_V2)]),
    ("Splügen", "1460 m", "dot", [(SPLUEGEN_D, SPLUEGEN_V), (SPLUEGEN_D2, SPLUEGEN_V2)]),
    ("Obersaxen", "1300 m", "bold", [(OBERSAXEN_D, OBERSAXEN_V)]),
])
p4 = build_panel(3, [
    ("All. Acqua", "1605m.ü.M.", "dash", [(ACQUA_D, ACQUA_V)]),
    ("Bosco-Gurin", "1510m", "dashdot", [(BOSCO_D, BOSCO_V)]),
    ("Bedretto", "1400m", "dot", [(BEDRETTO_D, BEDRETTO_V)]),
    ("Campo-Blenio", "1220m", "bold", [(CAMPO_D, CAMPO_V)]),
    ("Ambri", "1000m", "thin", [(AMBRI_D, AMBRI_V)]),
])
p5 = build_panel(4, [
    ("Alp Languard", "2273m.ü.M", "dash", [(LANGUARD_D, LANGUARD_V), (LANGUARD_D2, LANGUARD_V2)]),
    ("Maloja", "1820 m", "dashdot", [(MALOJA_D, MALOJA_V)]),
    ("St.Moritz", "1750 m", "dot", [(STMORITZ_D, STMORITZ_V), (STMORITZ_D2, STMORITZ_V2)]),
    ("Cavaglia", "1693 m", "bold", [(CAVAGLIA_D, CAVAGLIA_V), (CAVAGLIA_D2, CAVAGLIA_V2)]),
    ("Poschiavo", "1014 m", "thin", [(POSCHIAVO_D, POSCHIAVO_V)]),
], extras=[(LANGUARD_GAP_D, LANGUARD_GAP_V, "thin")])
p6 = build_panel(5, [
    ("Ofenpass", "2170 m.ü.M.", "dash", [(OFENPASS_D, OFENPASS_V), (OFENPASS_D2, OFENPASS_V2)]),
    ("Zuoz", "1730 m", "dashdot", [(ZUOZ_D, ZUOZ_V)]),
    ("Fetan", "1710 m", "dot", [(FETAN_D, FETAN_V), (FETAN_D2, FETAN_V2), (FETAN_D3, FETAN_V3)]),
    ("Vnã", "1630 m", "bold", [(VNA_D, VNA_V), (VNA_D2, VNA_V2)]),
    ("Sta. Maria", "1400 m", "thin", [(STAMARIA_D, STAMARIA_V), (STAMARIA_D2, STAMARIA_V2)]),
], extras=[(OFENPASS_GAP_D, OFENPASS_GAP_V, "thin")], bottom=True, slf=True)

chart = alt.vconcat(p1, p2, p3, p4, p5, p6, spacing=0, bounds="flush",
                    padding=0, background="white").configure_view(stroke=None)

chart.save("out.html", embed_options={"renderer": "svg", "actions": False})
